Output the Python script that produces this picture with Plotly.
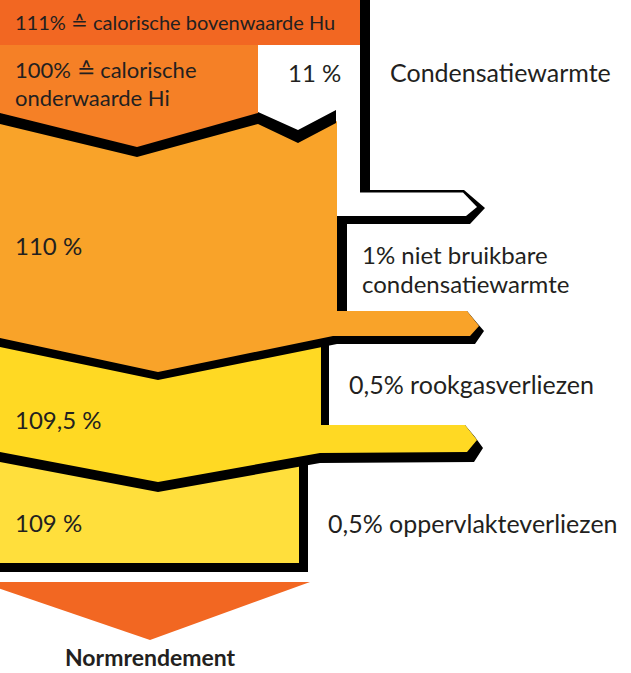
import plotly.graph_objects as go

# ---- data -------------------------------------------------------------
stage_values = [111, 100, 110, 109.5, 109]
stage_names = ["calorische bovenwaarde Hu", "calorische onderwaarde Hi"]
loss_values = [11, 1, 0.5, 0.5]
loss_names = ["Condensatiewarmte", "niet bruikbare", "rookgasverliezen", "oppervlakteverliezen"]
loss_names2 = ["", "condensatiewarmte", "", ""]
result_label = "Normrendement"


def fmt(v):
    s = ("%g" % v).replace(".", ",")
    return s


W, H = 631, 673
FONT = "Lato"
TXT = "#231F20"

RED = "#F26722"
ORANGE = "#F58026"
AMBER = "#F9A329"
YELLOW = "#FFD923"
YELLOW2 = "#FFDF3C"
BLACK = "#000000"

fig = go.Figure()
fig.add_trace(go.Scatter(x=[0, W], y=[0, H], mode="markers",
                         marker=dict(opacity=0), hoverinfo="skip", showlegend=False))


def poly(pts, color):
    d = "M " + " L ".join(f"{x},{y}" for x, y in pts) + " Z"
    fig.add_shape(type="path", path=d, fillcolor=color, line=dict(width=0),
                  xref="x", yref="y", layer="below")


# bottom result arrow
poly([(-20, 582), (310, 582), (150, 640)], RED)
# 109 % band
poly([(0, 440), (308, 440), (308, 572), (0, 572)], BLACK)
poly([(0, 440), (299, 440), (299, 563), (0, 563)], YELLOW2)
# 109,5 % band
poly([(0, 340), (329, 340), (329, 425), (465, 425), (475, 437), (483, 448),
      (474, 462), (320, 463), (158, 492), (0, 462)], BLACK)
poly([(0, 340), (321, 340), (321, 425), (465, 425), (477, 440), (467, 452),
      (320, 453), (158, 482), (0, 452)], YELLOW)
# 110 % band
poly([(0, 200), (337, 200), (337, 215), (347, 215), (347, 311), (467, 311),
      (477, 323), (484, 331), (475, 344), (337, 344), (158, 380), (0, 347)], BLACK)
poly([(0, 122), (137, 155), (258, 122), (298, 141), (337, 121), (337, 311),
      (467, 311), (479, 326), (470, 336), (333, 336), (158, 372), (0, 338)], AMBER)
# condensation (white) arrow
poly([(360, 190), (464, 190), (485, 208), (470, 224), (337, 224), (337, 193),
      (360, 193)], BLACK)
poly([(337, 192.5), (463, 192.5), (477, 207), (466, 216), (337, 216)], "#FFFFFF")
# zigzag black strip under 100 % band
poly([(0, 112), (137, 146), (258, 112), (298, 130), (336, 110), (336, 123),
      (298, 143), (258, 124), (137, 157), (0, 124)], BLACK)
# 100 % band
poly([(0, 45), (258, 45), (258, 113), (137, 147), (0, 113)], ORANGE)
# 111 % band
poly([(0, 0), (360, 0), (360, 45), (0, 45)], RED)
poly([(360, 0), (370, 0), (370, 192), (360, 192)], BLACK)


def txt(x, y, s, size=24, anchor="left", bold=False):
    fig.add_annotation(x=x, y=y, text=(f"<b>{s}</b>" if bold else s),
                       showarrow=False, xanchor=anchor, yanchor="middle",
                       align=anchor if anchor != "center" else "center",
                       borderpad=0,
                       font=dict(family=FONT, size=size, color=TXT),
                       xref="x", yref="y")


txt(14, 22, f"{fmt(stage_values[0])}% \u2259 {stage_names[0]}", size=20)
first, rest = stage_names[1].split(" ", 1)
txt(14, 69.5, f"{fmt(stage_values[1])}% \u2259 {first}", size=22)
txt(14, 97.5, rest, size=22)
txt(287, 72, f"{fmt(loss_values[0])} %", size=24)
txt(389, 72, loss_names[0], size=25)
txt(14, 245, f"{fmt(stage_values[2])} %", size=24)
txt(361, 254, f"{fmt(loss_values[1])}% {loss_names[1]}", size=24)
txt(361, 283.5, loss_names2[1], size=24)
txt(348, 384, f"{fmt(loss_values[2])}% {loss_names[2]}", size=25)
txt(14, 419, f"{fmt(stage_values[3])} %", size=24)
txt(14, 522, f"{fmt(stage_values[4])} %", size=24)
txt(327, 523, f"{fmt(loss_values[3])}% {loss_names[3]}", size=25)
txt(150, 657, result_label, size=23, anchor="center", bold=True)

fig.update_layout(
    width=W, height=H, margin=dict(l=0, r=0, t=0, b=0),
    paper_bgcolor="white", plot_bgcolor="white",
    xaxis=dict(range=[0, W], visible=False, fixedrange=True),
    yaxis=dict(range=[H, 0], visible=False, fixedrange=True),
    showlegend=False,
)
fig.write_html("out.html", config={"displayModeBar": False},
               post_script="document.body.style.margin='0';document.body.style.overflow='hidden';")
